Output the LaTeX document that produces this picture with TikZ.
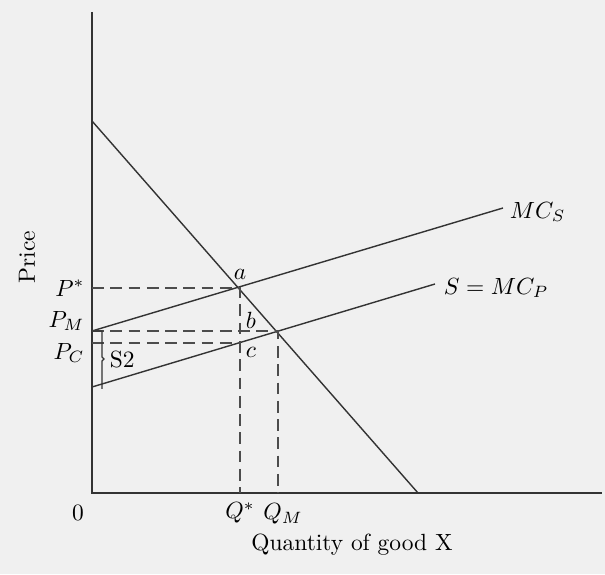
\documentclass[tikz,border=0pt]{standalone}
\usepackage{amsmath}
\usetikzlibrary{positioning}

\begin{document}
\begin{tikzpicture}[
  x=0.015cm, y=0.015cm,
  curve/.style={line width=0.6pt, draw=black!80},
  guide/.style={line width=0.6pt, draw=black!70, dash pattern=on 5pt off 2.8pt},
  lbl/.style={font=\normalsize, inner sep=1pt}
]
  % page and frame
  \fill[black!6] (0,0) rectangle (605,574);
  \useasboundingbox (0,0) rectangle (605,574);

  \coordinate (o) at (92,81);
  \coordinate (ytop) at (92,562);
  \coordinate (xend) at (602,81);
  \coordinate (d1) at (92,453);
  \coordinate (d2) at (418,81);
  \coordinate (s1) at (92,243);
  \coordinate (s2) at (503,366);
  \coordinate (p1) at (92,187);
  \coordinate (p2) at (435,290);
  \coordinate (a) at (240,286);
  \coordinate (c) at (240,231);
  \coordinate (m) at (278,243);
  \coordinate (qs) at (240,81);
  \coordinate (qm) at (278,81);
  \coordinate (ps) at (92,286);
  \coordinate (pm) at (92,243);
  \coordinate (pc) at (92,231);

  % axes
  \draw[curve] (ytop) -- (o) -- (xend);

  % demand and cost curves
  \draw[curve] (d1) -- (d2);
  \draw[curve] (s1) -- (s2);
  \draw[curve] (p1) -- (p2);

  % guides
  \draw[guide] (ps) -- (a) -- (qs);
  \draw[guide] (pm) -- (m) -- (qm);
  \draw[guide] (pc) -- (c);

  % tax bracket
  \draw[curve, line width=0.5pt] (pm) -- ++(10,0) -- ++(0,-26) -- ++(2,-2)
    -- ++(-2,-2) -- (102,185);

  \node[lbl] (la) at (240,300) {$a$};
  \node[lbl] (lb) at (251,254) {$b$};
  \node[lbl] (lc) at (251,222) {$c$};
  \node[lbl, left=2pt of ps] (lps) {$P^*$};
  \node[lbl, above left=-1pt and 2pt of pm] (lpm) {$P_M$};
  \node[lbl, below left=-1pt and 2pt of pc] (lpc) {$P_C$};
  \node[lbl, anchor=west] (tax) at (107,214) {S2};
  \node[lbl, anchor=west] (lmcs) at (507,362) {$MC_S$};
  \node[lbl, anchor=west] (lmcp) at (441,286) {$S = MC_P$};
  \node[lbl] (zero) at (78,61) {0};
  \node[lbl] (lqs) at (240,61) {$Q^*$};
  \node[lbl] (lqm) at (283,60) {$Q_M$};
  \node[lbl] (xlab) at (352,29) {Quantity of good X};
  \node[lbl, rotate=90] (ylab) at (27,317) {Price};
\end{tikzpicture}
\end{document}
